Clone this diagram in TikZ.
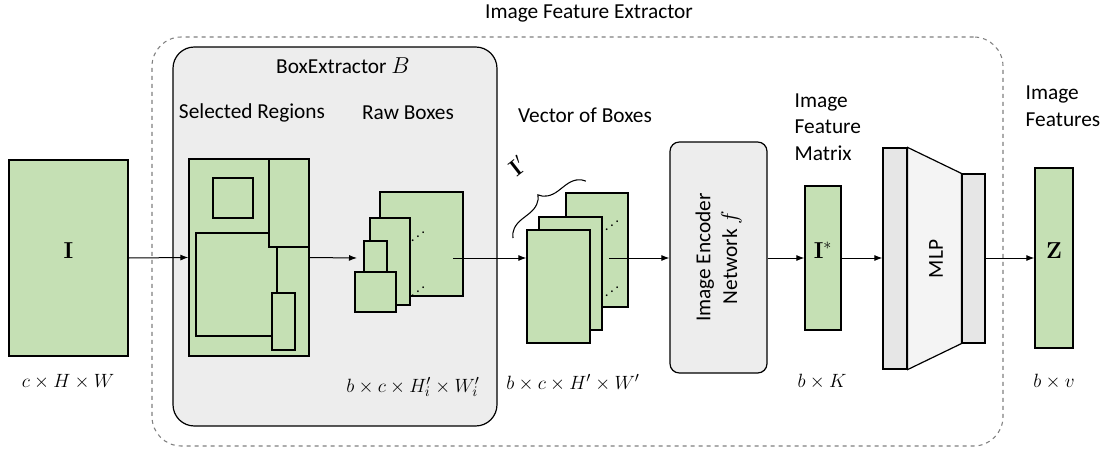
\documentclass[tikz,border=0pt]{standalone}
\usepackage[no-math]{fontspec}
\setmainfont{Carlito}
\usetikzlibrary{fit,arrows.meta,decorations.pathreplacing}
\definecolor{boxgreen}{HTML}{C5E0B4}
\definecolor{panelgray}{HTML}{EDEDED}
\definecolor{dashgray}{HTML}{808080}
\definecolor{mlpgray}{HTML}{E6E6E6}
\definecolor{mlplight}{HTML}{F4F4F4}

\begin{document}
\begin{tikzpicture}[x=0.75pt,y=-0.75pt,>={Latex[length=6pt,width=4.5pt]},
    every node/.style={font=\fontsize{16}{20}\selectfont},
    green box/.style={draw,fill=boxgreen,inner sep=0pt,line width=0.9pt},
    region/.style={draw,fill=boxgreen,line width=0.9pt},
    panel/.style={draw,fill=panelgray,inner sep=0pt,line width=0.9pt},
    mlp bar/.style={draw,fill=mlpgray,inner sep=0pt,line width=0.9pt},
    flow/.style={->,line width=0.75pt},
    dims/.style={font=\fontsize{15}{18}\selectfont},
    dots/.style={inner sep=0pt,font=\fontsize{11}{12}\selectfont}]

    \useasboundingbox (0,0) rectangle (1104,450);

    % outer extractor frame
    \node[draw=dashgray,dashed,line width=0.8pt,rounded corners=22pt,inner sep=0pt,fit={(152,37)(1003,446)}] (extractor) {};
    \node (title) at (589,13) {Image Feature Extractor};

    % input image
    \node[green box,fit={(9,160)(128,356)}] (img) {\fontsize{17}{18}\selectfont$\mathbf{I}$};
    \node[dims] (imgdim) at (68,382) {$c\times H\times W$};

    % box extractor panel
    \node[panel,rounded corners=16pt,fit={(173,47)(497,426)}] (boxext) {};
    \node (boxexttitle) at (343,66) {BoxExtractor $B$};
    \node (selregtitle) at (252,113) {Selected Regions};
    \node (rawtitle) at (408,113) {Raw Boxes};

    \node[green box,fit={(189,159)(309,356)}] (selreg) {};
    \draw[region] (213,178) rectangle (253,218);
    \draw[region] (196,233) rectangle (277,336);
    \draw[region] (269,159) rectangle (309,247);
    \draw[region] (272,293) rectangle (295,350);

    \node[green box,fit={(380,192)(463,296)}] (rawa) {};
    \node[green box,fit={(370,218)(410,305)}] (rawb) {};
    \node[green box,fit={(364,241)(387,292)}] (rawc) {};
    \node[green box,fit={(355,272)(396,312)}] (rawd) {};
    \node[dots] (rawdotsa) at (418,233) {\reflectbox{$\ddots$}};
    \node[dots] (rawdotsb) at (418,288) {\reflectbox{$\ddots$}};
    \node[dims] (rawdim) at (413,387) {$b\times c\times H_i'\times W_i'$};

    % vector of boxes
    \node (vectitle) at (585,115) {Vector of Boxes};
    \node[green box,fit={(566,193)(628,307)}] (vback) {};
    \node[green box,fit={(539,217)(602,330)}] (vmid) {};
    \node[green box,fit={(527,230)(590,343)}] (vfront) {};
    \node[dots] (vecdotsa) at (612,222) {\reflectbox{$\ddots$}};
    \node[dots] (vecdotsb) at (612,288) {\reflectbox{$\ddots$}};
    \coordinate (bracea) at (513,238);
    \coordinate (braceb) at (586,181);
    \draw[line width=0.8pt,decorate,decoration={brace,amplitude=14pt}] (bracea) -- (braceb);
    \node[rotate=38] (veclabel) at (517,166) {\fontsize{17}{18}\selectfont$\mathbf{I}'$};
    \node[dims] (vecdim) at (573,383) {$b\times c\times H'\times W'$};

    % encoder
    \node[panel,rounded corners=7pt,fit={(670,142)(767,373)}] (enc) {};
    \node[rotate=90,align=center] (enctext) at (enc.center) {Image Encoder\\Network $f$};

    % feature matrix
    \node[align=left,anchor=west] (istartitle) at (790,127) {Image\\Feature\\Matrix};
    \node[green box,fit={(805,186)(841,330)}] (istar) {\fontsize{17}{18}\selectfont$\mathbf{I}^{*}$};
    \node[dims] (istardim) at (822,382) {$b\times K$};

    % MLP
    \node[mlp bar,fit={(883,148)(907,369)}] (mlpin) {};
    \node[mlp bar,fit={(962,174)(985,343)}] (mlpout) {};
    \draw[fill=mlplight,line width=0.9pt] (mlpin.north east) -- (mlpout.north west)
        -- (mlpout.south west) -- (mlpin.south east) -- cycle;
    \node[rotate=90] (mlptext) at (936,259) {MLP};

    % image features
    \node[align=left,anchor=west] (ztitle) at (1021,106) {Image\\Features};
    \node[green box,fit={(1035,168)(1073,348)}] (zvec) {\fontsize{17}{18}\selectfont$\mathbf{Z}$};
    \node[dims] (zdim) at (1054,382) {$b\times v$};

    % connectors
    \coordinate (rawin) at (357,258);
    \coordinate (rawout) at (453,258);
    \coordinate (vecout) at (609,258);
    \draw[flow] (img.east) -- (selreg.west);
    \draw[flow] (selreg.east) -- (rawin);
    \draw[flow] (rawout) -- (rawout -| vfront.west);
    \draw[flow] (vecout) -- (vecout -| enc.west);
    \draw[flow] (enc.east |- istar.west) -- (istar.west);
    \draw[flow] (istar.east) -- (istar.east -| mlpin.west);
    \draw[flow] (mlpout.east |- zvec.west) -- (zvec.west);
\end{tikzpicture}
\end{document}
